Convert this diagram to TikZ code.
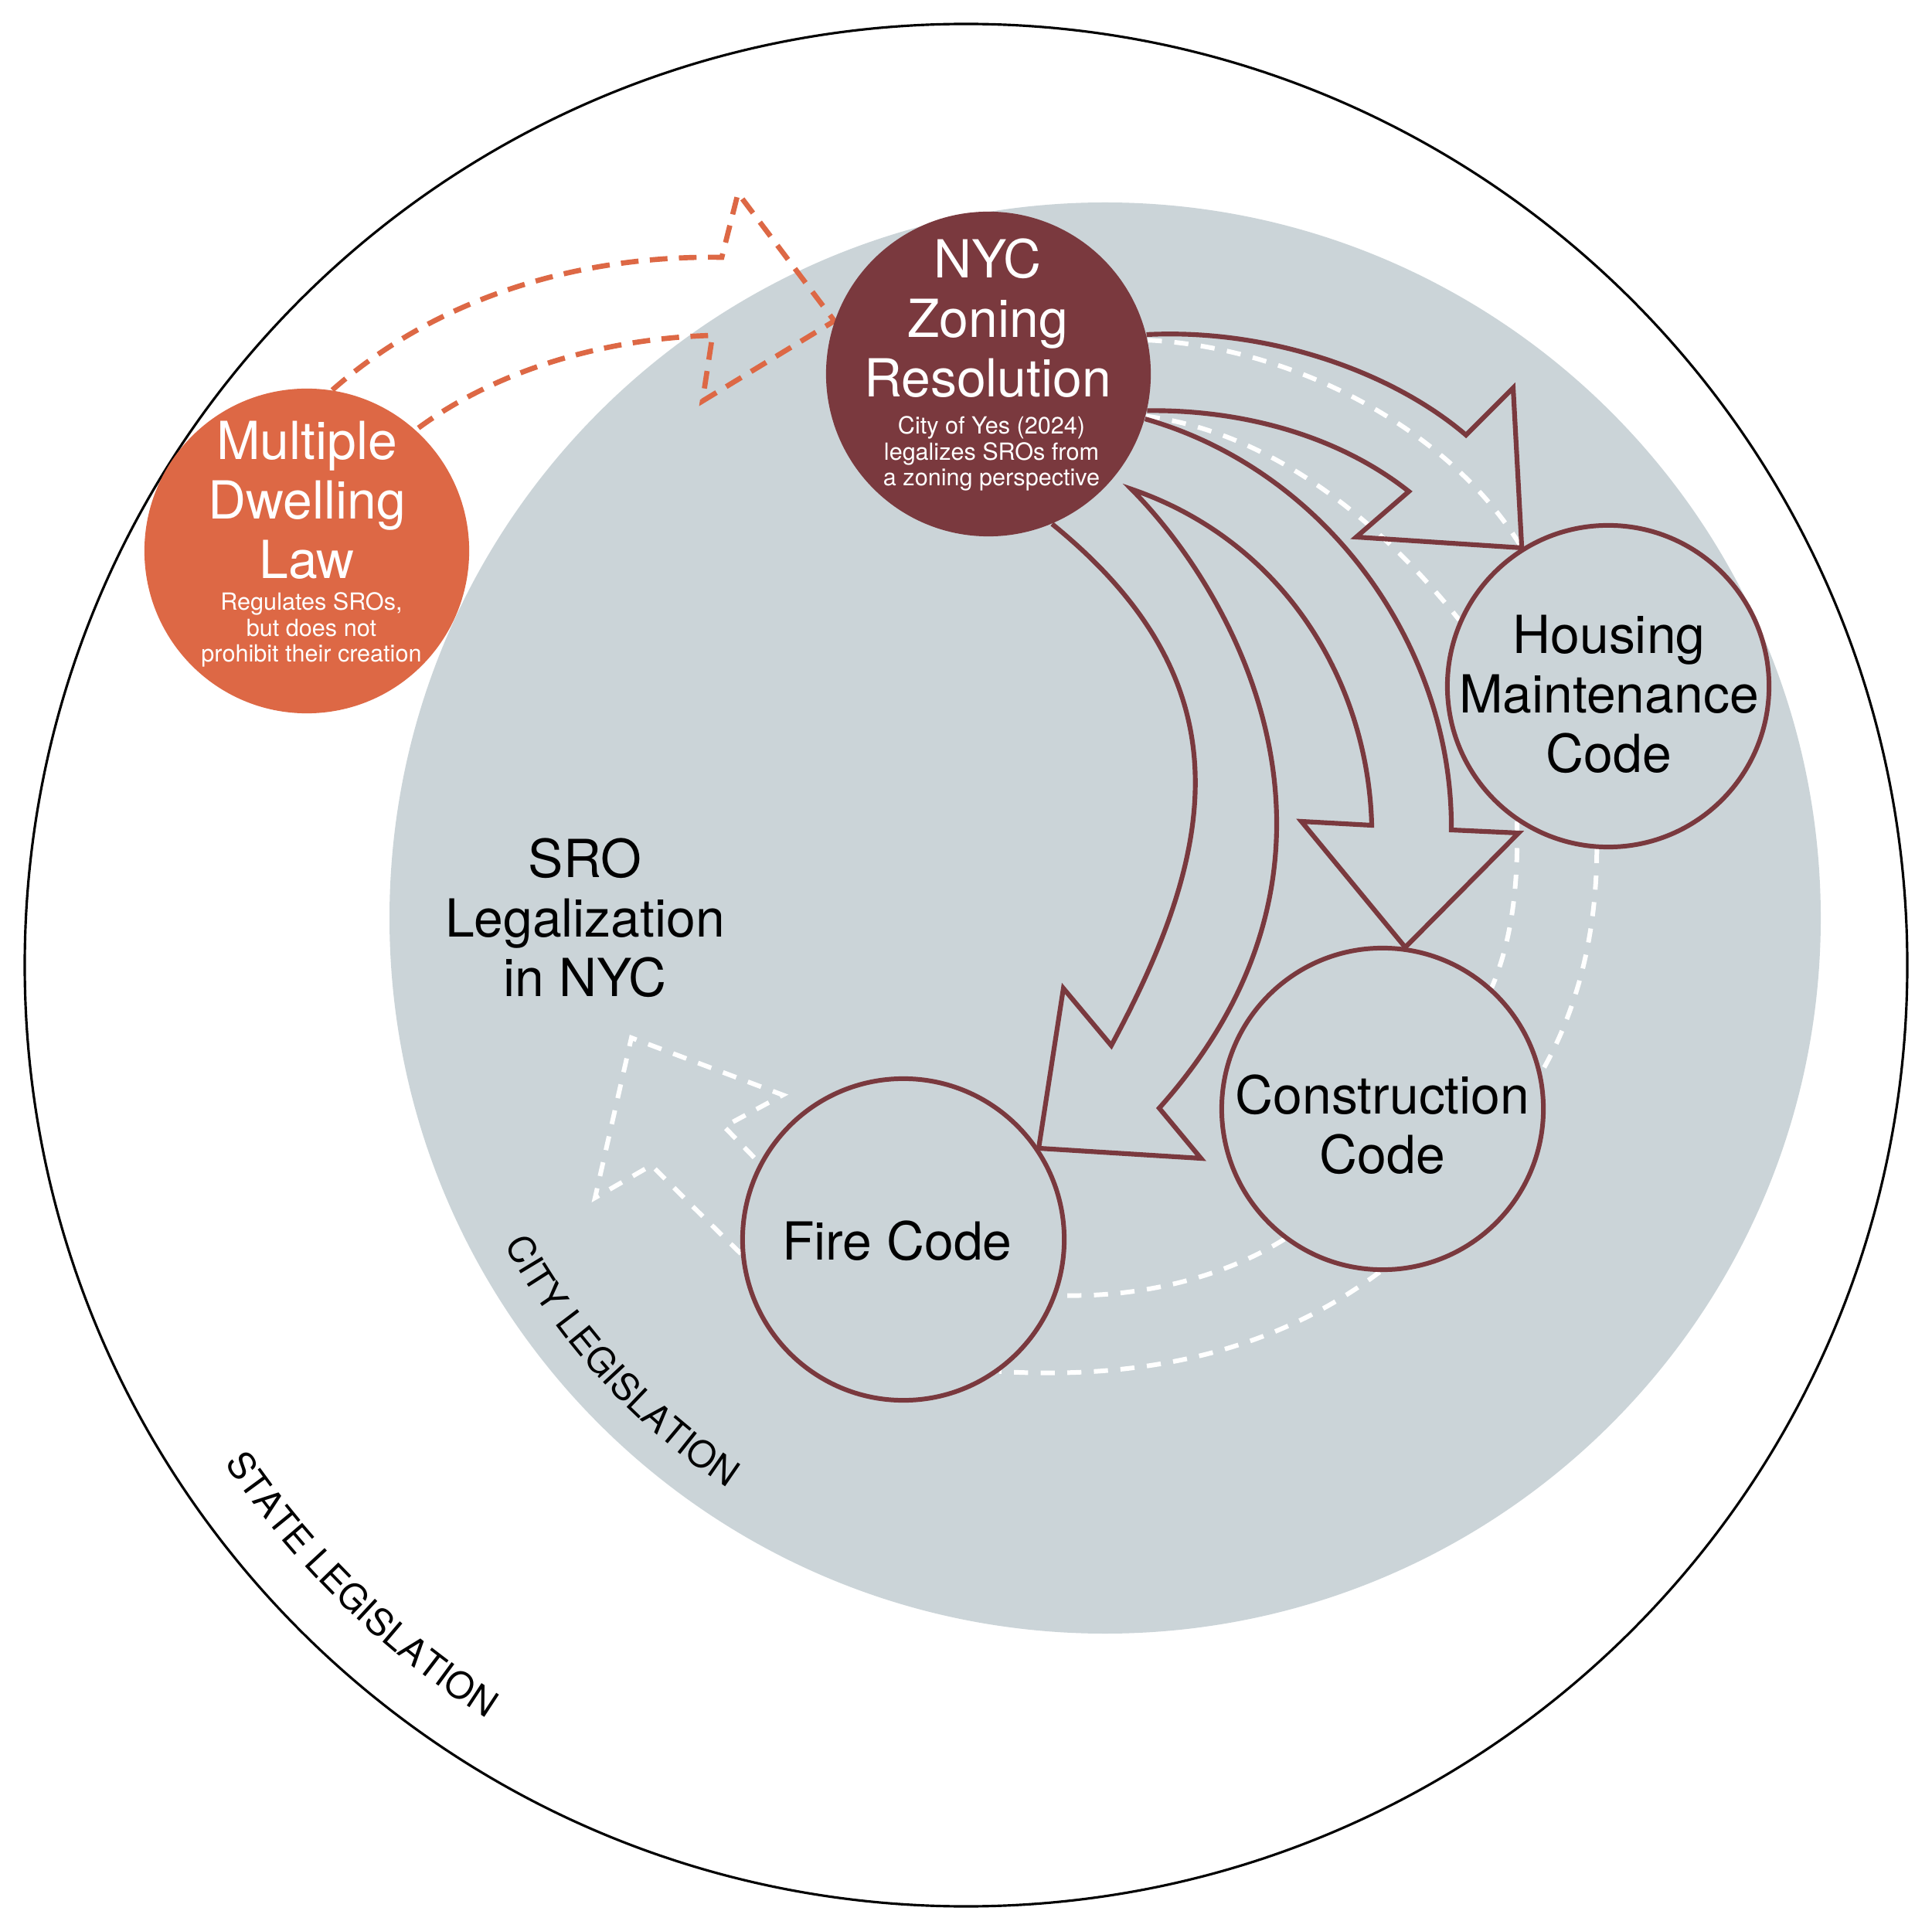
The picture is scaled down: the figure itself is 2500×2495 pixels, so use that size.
\documentclass[tikz,border=0pt]{standalone}
\usepackage{fontspec}
\setmainfont{TeX Gyre Heros}
\usetikzlibrary{decorations.text}
\definecolor{maroon}{RGB}{122,57,62}
\definecolor{cgray}{RGB}{203,212,216}
\definecolor{mdlorange}{RGB}{221,104,69}
\pgfdeclarelayer{back}
\pgfdeclarelayer{mid}
\pgfsetlayers{back,mid,main}
\begin{document}
\begin{tikzpicture}[x=0.01cm,y=0.01cm,
  bigtxt/.style={font=\fontsize{19.3}{21.9}\selectfont, align=center, inner sep=0pt},
  smalltxt/.style={font=\fontsize{8.7}{9.5}\selectfont, align=center, inner sep=0pt},
  codecirc/.style={circle, draw=maroon, line width=1.7pt, fill=cgray, minimum size=4.16cm, inner sep=0pt},
  lawcirc/.style={circle, fill=#1, minimum size=4.2cm, inner sep=0pt},
  arrowline/.style={draw=maroon, line width=1.75pt, line join=miter},
  whitedash/.style={draw=white, line width=1.7pt, dash pattern=on 5.2pt off 4.6pt},
  orangedash/.style={draw=mdlorange, line width=1.9pt, dash pattern=on 6.5pt off 4.2pt}]
\useasboundingbox (0,0) rectangle (2500,-2495);
\begin{pgfonlayer}{back}
\fill[white] (0,0) rectangle (2500,-2495);
\draw[line width=0.9pt] (1250,-1249) circle[radius=1218];
\fill[cgray] (1430,-1188) circle[radius=926];
\end{pgfonlayer}

% circles
\node[lawcirc=mdlorange] (mdl) at (397,-713) {};
\node[lawcirc=maroon] (nyc) at (1279,-484) {};
\node[codecirc] (hmc) at (2081,-888) {};
\node[codecirc] (con) at (1789,-1435) {};
\node[codecirc] (fire) at (1169,-1604) {};

% texts
\node[bigtxt, text=white] (mdlt) at (397,-647) {Multiple\\Dwelling\\Law};
\node[smalltxt, text=white] (mdls) at (403,-815) {Regulates SROs,\\but does not\\prohibit their creation};
\node[bigtxt, text=white] (nyct) at (1278,-412) {NYC\\Zoning\\Resolution};
\node[smalltxt, text=white] (nycs) at (1283,-587) {City of Yes (2024)\\legalizes SROs from\\a zoning perspective};
\node[bigtxt] (hmct) at (2082,-898) {Housing\\Maintenance\\Code};
\node[bigtxt] (cont) at (1789,-1455) {Construction\\Code};
\node[bigtxt] (firet) at (1161,-1606) {Fire Code};
\node[bigtxt] (srot) at (757,-1188) {SRO\\Legalization\\in NYC};

% curved labels
\path[decorate, decoration={text along path, text={|\fontsize{13.5}{16}\selectfont|CITY LEGISLATION}, text align=center}]
  (1430,-1188) ++(200:885) arc[start angle=200, end angle=245, radius=885];
\path[decorate, decoration={text along path, text={|\fontsize{13.5}{16}\selectfont|STATE LEGISLATION}, text align=center}]
  (1250,-1249) ++(200:1156) arc[start angle=200, end angle=251.4, radius=1156];

\begin{pgfonlayer}{mid}
% white dashed feedback lines
\draw[whitedash] (nyc.12) .. controls (1680,-450) and (1880,-560) .. (hmc.122);
\draw[whitedash] (nyc.-15) .. controls (1650,-560) and (1790,-680) .. (hmc.156);
\draw[whitedash] (hmc.236) .. controls (1965,-1150) and (1955,-1220) .. (con.48);
\draw[whitedash] (hmc.266) .. controls (2066,-1200) and (2045,-1300) .. (con.13);
\draw[whitedash] (con.233) .. controls (1580,-1655) and (1470,-1680) .. (fire.-20);
\draw[whitedash] (con.269) .. controls (1700,-1710) and (1550,-1790) .. (fire.-54);
% white dashed arrow to SRO text
\draw[whitedash] (fire.185) .. controls (910,-1575) and (875,-1540) .. (843,-1508)
  -- (770,-1550) -- (817,-1343) -- (1013,-1417) -- (937,-1458) -- (fire.152);
% orange dashed arrow
\draw[orangedash] (mdl.81) .. controls (560,-390) and (740,-330) .. (934,-333)
  -- (955,-250) -- (nyc.161) -- (909,-519) -- (922,-434)
  .. controls (780,-438) and (640,-480) .. (mdl.48);
% maroon block arrows
\draw[arrowline] (nyc.14) .. controls (1640,-425) and (1800,-480) .. (1897,-563)
  -- (1958,-502) -- (hmc.122) -- (1755,-695) -- (1823,-636)
  .. controls (1740,-570) and (1620,-530) .. (nyc.-13);
\draw[arrowline] (nyc.-16) .. controls (1720,-610) and (1880,-840) .. (1878,-1074)
  -- (1965,-1078) -- (con.82) -- (1684,-1063) -- (1775,-1068)
  .. controls (1770,-880) and (1660,-700) .. (1464,-633)
  .. controls (1600,-770) and (1790,-1110) .. (1500,-1434)
  -- (1554,-1499) -- (fire.34) -- (1376,-1279) -- (1438,-1353)
  .. controls (1580,-1090) and (1610,-880) .. (nyc.-67);
\end{pgfonlayer}
\end{tikzpicture}
\end{document}
